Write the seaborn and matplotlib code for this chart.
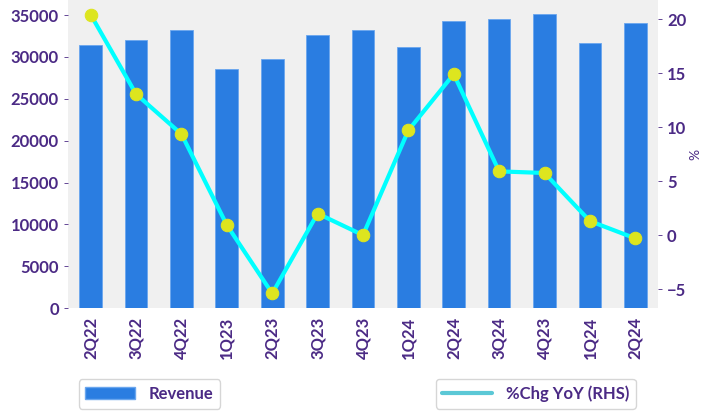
import numpy as np
import pandas as pd
import matplotlib
matplotlib.use('Agg')
import matplotlib.pyplot as plt
import seaborn as sns
from matplotlib.patches import Patch
from matplotlib.lines import Line2D

quarters = ['2Q22', '3Q22', '4Q22', '1Q23', '2Q23', '3Q23', '4Q23',
            '1Q24', '2Q24', '3Q24', '4Q23', '1Q24', '2Q24']
revenue = [31400, 32000, 33200, 28550, 29750, 32600, 33200,
           31200, 34300, 34500, 35100, 31650, 34050]
chg_yoy = [20.4, 13.05, 9.35, 0.93, -5.4, 2.0, 0.0,
           9.7, 14.9, 5.9, 5.75, 1.3, -0.3]

txt = '#4b2a85'
sns.set_style('white')
plt.rcParams['font.family'] = ['Lato', 'DejaVu Sans']
plt.rcParams['font.weight'] = 'bold'

df = pd.DataFrame({'q': range(len(quarters)), 'rev': revenue, 'chg': chg_yoy})

fig = plt.figure(figsize=(7.04, 4.17), dpi=100)
ax = fig.add_axes([0.0966, 0.261, 0.838, 0.739])
ax.set_facecolor('#f0f0f0')
sns.barplot(data=df, x='q', y='rev', color='#2a7de1', width=0.5,
            saturation=1, edgecolor='#6aa6ee', linewidth=0.6, ax=ax)
ax.set_ylim(0, 36800)
ax.set_xlim(-0.5, 12.5)
ax.set_xticks(range(len(quarters)))
ax.set_xticklabels(quarters, rotation=90)
ax.set_xlabel('')
ax.set_ylabel('')

ax2 = ax.twinx()
sns.lineplot(x=np.arange(len(quarters)), y=chg_yoy, color='#00ffff', lw=3,
             marker='o', markersize=9, markerfacecolor='#dde51f',
             markeredgecolor='#dde51f', ax=ax2)
ax2.set_ylim(-6.76, 21.76)
ax2.set_yticks([-5, 0, 5, 10, 15, 20])
ax2.set_ylabel('%', color=txt, fontsize=10, fontweight='normal', labelpad=2)

for a in (ax, ax2):
    for s in a.spines.values():
        s.set_visible(False)
    a.tick_params(colors=txt, labelsize=12, length=3, width=0.6, labelcolor=txt)

fig.legend(handles=[Patch(facecolor='#2a7de1', edgecolor='#6aa6ee', label='Revenue')],
           loc='lower left', bbox_to_anchor=(0.1, 0.0), fontsize=12,
           labelcolor=txt, frameon=True, handlelength=3)
fig.legend(handles=[Line2D([], [], color='#5bc8d6', lw=3, label='%Chg YoY (RHS)')],
           loc='lower right', bbox_to_anchor=(0.915, 0.0), fontsize=12,
           labelcolor=txt, frameon=True, handlelength=3)

fig.savefig('out.png', dpi=100)
